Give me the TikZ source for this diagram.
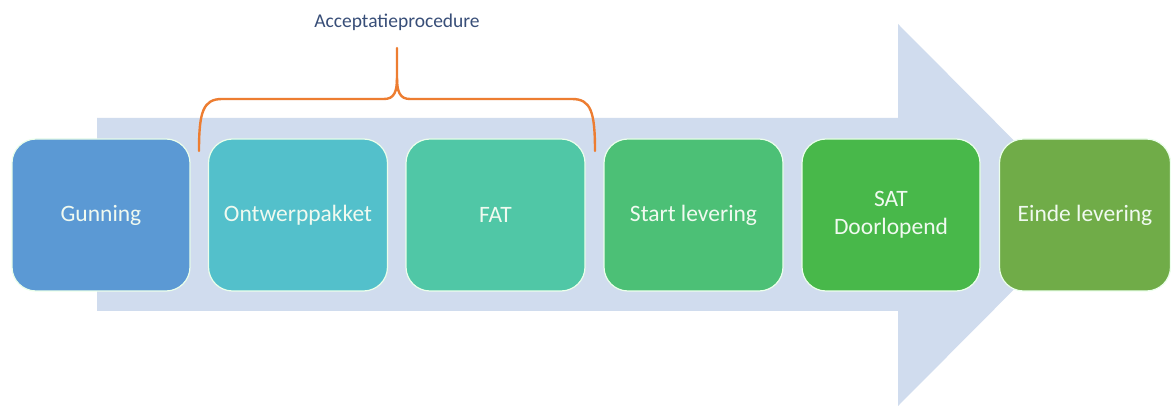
\documentclass[tikz,border=0pt]{standalone}
\usepackage{fontspec}
\setmainfont{Carlito}
\definecolor{arrowbg}{RGB}{208,220,238}
\definecolor{cGun}{RGB}{91,153,212}
\definecolor{cOnt}{RGB}{83,192,203}
\definecolor{cFat}{RGB}{80,199,166}
\definecolor{cStart}{RGB}{76,192,118}
\definecolor{cSat}{RGB}{72,184,74}
\definecolor{cEinde}{RGB}{112,172,72}
\definecolor{bracecol}{RGB}{237,125,49}
\definecolor{labelcol}{RGB}{56,78,120}
\definecolor{boxtext}{RGB}{240,250,240}
\begin{document}
\begin{tikzpicture}[x=1pt,y=-1pt,
  stepbox/.style={draw=white!92!green, line width=1.2pt, rounded corners=24pt,
    minimum height=152pt, inner sep=0pt, align=center, text=boxtext,
    font=\fontsize{23.5}{28}\selectfont},
  brace/.style={draw=bracecol, line width=2.4pt, line cap=round}]
\useasboundingbox (0,0) rectangle (1171,406);
\fill[white] (0,0) rectangle (1171,406);
% big background arrow
\fill[arrowbg] (97,118) -- (898,118) -- (898,24) -- (1088,215) -- (898,406) -- (898,311) -- (97,311) -- cycle;
% process boxes
\node[stepbox, fill=cGun, minimum width=178pt] (gun) at (101,215) {Gunning};
\node[stepbox, fill=cOnt, minimum width=179pt] (ont) at (298,215) {Ontwerppakket};
\node[stepbox, fill=cFat, minimum width=179pt] (fat) at (495.5,215) {FAT};
\node[stepbox, fill=cStart, minimum width=179pt] (start) at (693.5,215) {Start levering};
\node[stepbox, fill=cSat, minimum width=178pt] (sat) at (891,215) {SAT\\Doorlopend};
\node[stepbox, fill=cEinde, minimum width=171pt] (einde) at (1085,215) {Einde levering};
% brace
\draw[brace] (199,151) .. controls (199,112) and (203,99) .. (222,99) -- (384,99)
  .. controls (394,99) and (397,92) .. (397,78) -- (397,48);
\draw[brace] (397,78) .. controls (397,92) and (400,99) .. (410,99) -- (572,99)
  .. controls (591,99) and (595,112) .. (595,151);
\node[text=labelcol, font=\fontsize{19.5}{23}\selectfont] (lab) at (397,22) {Acceptatieprocedure};
\end{tikzpicture}
\end{document}
